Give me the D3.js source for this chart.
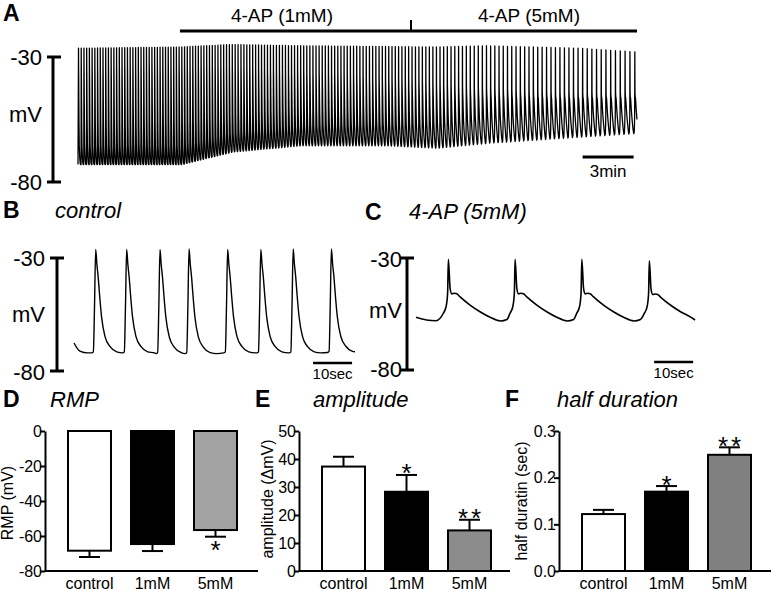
<!DOCTYPE html>
<html><head><meta charset="utf-8">
<script src="https://cdn.jsdelivr.net/npm/d3@7"></script>
<style>
body{margin:0;background:#fff}
svg{display:block}
text{font-family:"Liberation Sans",Arial,Helvetica,sans-serif;fill:#000}
</style></head><body>
<svg id="fig" width="771" height="591"></svg>
<script>
// ================= DATA =================
// Panel A: long recording (minutes, mV) — envelope read at key times
const aDuration    = 32.9;
const aKeyTime     = [0, 6, 9, 13, 18, 21, 24, 29.5, 32.9];
const aKeyTrough   = [-73, -73, -68, -65.5, -65.5, -66.5, -64.5, -62, -60.5];
const aKeyPeak     = [-26.5, -26, -25, -25.5, -25.8, -26, -25.5, -26.5, -28];
const aKeyInterval = [0.16, 0.16, 0.17, 0.18, 0.19, 0.21, 0.245, 0.27, 0.29];
const aKeyShapeMix = [0, 0, 0.15, 0.3, 0.45, 0.6, 0.8, 1, 1];
// spike waveform templates (phase of interval -> fraction trough..peak)
const aPhase    = [0, 0.03, 0.07, 0.12, 0.18, 0.28, 0.44, 0.62, 0.77, 0.87, 0.93, 0.965];
const aShapeCtl = [1, 0.85, 0.74, 0.55, 0.35, 0.157, 0.06, 0.01, 0, 0, 0, 0.35];
const aShape4AP = [1, 0.5, 0.44, 0.44, 0.39, 0.29, 0.17, 0.06, 0, 0.02, 0.12, 0.23];
const aDrugTimes  = [6, 19.6, 32.9];
const aDrugLabels = ["4-AP (1mM)", "4-AP (5mM)"];
const aScaleBarMin = [29.7, 32.7];

// Panel B: control trace (seconds, mV)
const bDuration = 72.05;
const bStartPts = [[0, -67.6], [1.5, -71.2], [3.5, -72]];
const bEndPt    = [72.05, -71.5];
const bPeakTime = [5.56, 13.5, 22.05, 29.5, 39.4, 47.9, 56.2, 66.0];
const bPeakV    = [-26.2, -26.2, -26.2, -26.0, -26.2, -26.2, -26.0, -26.0];
const bTroughV  = [-72, -72, -72.3, -72.3, -72, -72, -72, -71.8];
const bShapeT   = [-1.0, -0.6, -0.3, 0, 0.3, 0.65, 1.0, 1.5, 2.4, 3.7, 5.4, 7.1];
const bShapeF   = [0, 0.01, 0.45, 1, 0.86, 0.73, 0.56, 0.35, 0.157, 0.06, 0.01, 0];
const bScaleBarSec = [61.3, 71.3];

// Panel C: 4-AP (5mM) trace (seconds, mV)
const cDuration = 71.5;
const cStartPts = [[0, -56.5], [2.7, -57.7], [5.1, -58.0]];
const cEndPt    = [71.5, -57.7];
const cPeakTime = [8.3, 25.4, 42.5, 59.8];
const cPeakV    = [-30.6, -30.6, -30.6, -31.3];
const cTroughV  = [-58.1, -58.1, -58.1, -58.1];
const cShapeT   = [-1.3, -0.6, -0.2, 0, 0.44, 0.87, 1.5, 2.15, 3.0, 5.56, 8.1, 10.7, 13.3, 15.0];
const cShapeF   = [0.125, 0.23, 0.45, 1, 0.53, 0.44, 0.45, 0.44, 0.39, 0.257, 0.15, 0.06, 0, 0.025];
const cScaleBarSec = [62.05, 72.05];

const scaleBarMV = [-80, -30];
const scaleLabels = ["-30", "mV", "-80"];

// Panels D-F: bar charts
const cats    = ["control", "1mM", "5mM"];
const rmpMean = [-68.4, -64.6, -56.6];
const rmpSem  = [3.6, 4.0, 3.8];
const rmpSig  = ["", "", "*"];
const rmpTicks = [0, -20, -40, -60, -80];
const ampMean = [37.3, 28.3, 14.5];
const ampSem  = [3.5, 6.0, 3.8];
const ampSig  = ["", "*", "**"];
const ampTicks = [0, 10, 20, 30, 40, 50];
const hdMean  = [0.122, 0.170, 0.249];
const hdSem   = [0.009, 0.012, 0.016];
const hdSig   = ["", "*", "**"];
const hdTicks = [0, 0.1, 0.2, 0.3];

// ================= DRAW =================
const svg = d3.select("#fig");

function label(x, y, s, o = {}) {
  const t = svg.append("text").attr("x", x).attr("y", y).text(s)
    .attr("font-size", o.size || 16)
    .attr("text-anchor", o.anchor || "start");
  if (o.bold) t.attr("font-weight", "bold");
  if (o.italic) t.attr("font-style", "italic");
  if (o.transform) t.attr("transform", o.transform).attr("x", 0).attr("y", 0);
  return t;
}
function seg(x1, y1, x2, y2, w) {
  svg.append("line").attr("x1", x1).attr("y1", y1).attr("x2", x2).attr("y2", y2)
    .attr("stroke", "#000").attr("stroke-width", w);
}

// ---------- Panel A ----------
const xA = d3.scaleLinear().domain([0, aDuration]).range([78, 637]);
const yA = d3.scaleLinear().domain([-80, -30]).range([182, 57]);
const key = vals => d3.scaleLinear().domain(aKeyTime).range(vals).clamp(true);
const aTr = key(aKeyTrough), aPk = key(aKeyPeak), aInt = key(aKeyInterval), aMix = key(aKeyShapeMix);
const aPts = [[0, aTr(0)]];
let t0 = 0.03;
while (t0 < aDuration) {
  const I = aInt(t0), tr = aTr(t0), pk = aPk(t0), m = aMix(t0);
  aPhase.forEach((p, k) => {
    const tt = t0 + p * I;
    if (tt <= aDuration) {
      const f = aShapeCtl[k] * (1 - m) + aShape4AP[k] * m;
      aPts.push([tt, tr + f * (pk - tr)]);
    }
  });
  t0 += I;
}
const lineA = d3.line().x(d => xA(d[0])).y(d => yA(d[1]));
svg.append("path").attr("d", lineA(aPts)).attr("fill", "none")
  .attr("stroke", "#000").attr("stroke-width", 1.3).attr("stroke-linejoin", "round");

// drug bar
seg(xA(aDrugTimes[0]), 31, xA(aDrugTimes[2]), 31, 3);
seg(xA(aDrugTimes[1]), 20, xA(aDrugTimes[1]), 31, 2);
label(282, 22, aDrugLabels[0], {size: 19, anchor: "middle"});
label(529, 22, aDrugLabels[1], {size: 19, anchor: "middle"});
// time scale bar
seg(xA(aScaleBarMin[0]), 157, xA(aScaleBarMin[1]), 157, 3);
label((xA(aScaleBarMin[0]) + xA(aScaleBarMin[1])) / 2, 177, "3min", {size: 17, anchor: "middle"});

function vScale(x, y, t0w, t1w, labX, bases) {
  seg(x, y(scaleBarMV[0]), x, y(scaleBarMV[1]), 3);
  seg(t0w, y(scaleBarMV[0]), t1w, y(scaleBarMV[0]), 3);
  seg(t0w, y(scaleBarMV[1]), t1w, y(scaleBarMV[1]), 3);
  scaleLabels.forEach((s, i) => label(labX, bases[i], s, {size: 22, anchor: "end"}));
}
vScale(53, yA, 47, 61, 42, [65, 122, 190]);
label(3, 21, "A", {size: 23, bold: true});

// ---------- Panels B / C traces ----------
function buildTrace(startPts, endPt, peakT, peakV, troughV, shT, shF) {
  const pts = [];
  startPts.forEach(p => { if (p[0] < peakT[0] + shT[0]) pts.push(p); });
  peakT.forEach((tp, i) => {
    const limit = i < peakT.length - 1 ? peakT[i + 1] + shT[0] : endPt[0];
    shT.forEach((dt, k) => {
      const tt = tp + dt;
      if (tt < limit) pts.push([tt, troughV[i] + shF[k] * (peakV[i] - troughV[i])]);
    });
  });
  pts.push(endPt);
  return pts;
}
const xB = d3.scaleLinear().domain([0, bDuration]).range([74, 355]);
const yB = d3.scaleLinear().domain([-80, -30]).range([371, 258]);
const bPts = buildTrace(bStartPts, bEndPt, bPeakTime, bPeakV, bTroughV, bShapeT, bShapeF);
svg.append("path").attr("d", d3.line().curve(d3.curveMonotoneX).x(d => xB(d[0])).y(d => yB(d[1]))(bPts))
  .attr("fill", "none").attr("stroke", "#000").attr("stroke-width", 1.4).attr("stroke-linejoin", "round");
vScale(57, yB, 50, 64, 45, [266, 322, 380]);
seg(xB(bScaleBarSec[0]), 363, xB(bScaleBarSec[1]), 363, 2.5);
label((xB(bScaleBarSec[0]) + xB(bScaleBarSec[1])) / 2, 379, "10sec", {size: 15, anchor: "middle"});
label(3, 218, "B", {size: 23, bold: true});
label(55, 218, "control", {size: 22, italic: true});

const xC = d3.scaleLinear().domain([0, cDuration]).range([416, 695]);
const yC = d3.scaleLinear().domain([-80, -30]).range([370, 258]);
const cPts = buildTrace(cStartPts, cEndPt, cPeakTime, cPeakV, cTroughV, cShapeT, cShapeF);
svg.append("path").attr("d", d3.line().curve(d3.curveMonotoneX).x(d => xC(d[0])).y(d => yC(d[1]))(cPts))
  .attr("fill", "none").attr("stroke", "#000").attr("stroke-width", 1.6).attr("stroke-linejoin", "round");
vScale(407, yC, 400, 414, 402, [267, 318, 377]);
seg(xC(cScaleBarSec[0]) - 4, 362, xC(cScaleBarSec[1]) - 4, 362, 2.5);
label((xC(cScaleBarSec[0]) + xC(cScaleBarSec[1])) / 2 - 4, 378, "10sec", {size: 15, anchor: "middle"});
label(365, 220, "C", {size: 23, bold: true});
label(409, 219, "4-AP (5mM)", {size: 22, italic: true});

// ---------- Bar panels ----------
function barPanel(o) {
  const y = d3.scaleLinear().domain(o.domain).range([571, 431]);
  const x = d3.scaleBand().domain(cats)
    .range([o.axisX + 13, o.axisX + 13 + 189]).paddingInner(20 / 63).paddingOuter(10 / 63);
  const g = svg.append("g");
  g.selectAll("rect").data(o.means).join("rect")
    .attr("x", (d, i) => x(cats[i]))
    .attr("width", x.bandwidth())
    .attr("y", d => Math.min(y(0), y(d)))
    .attr("height", d => Math.abs(y(d) - y(0)))
    .attr("fill", (d, i) => o.fills[i])
    .attr("stroke", "#000").attr("stroke-width", 2);
  o.means.forEach((m, i) => {
    const e = m + Math.sign(m) * o.sems[i];
    const cx = x(cats[i]) + x.bandwidth() / 2;
    seg(cx, y(m), cx, y(e), 2);
    seg(cx - 10.5, y(e), cx + 10.5, y(e), 2);
    if (o.sig[i]) {
      const base = m < 0 ? y(e) + 22.5 : y(e) + 7.5;
      svg.append("text").attr("x", cx + (o.sig[i].length > 1 ? 1.5 : 0)).attr("y", base)
        .attr("text-anchor", "middle").attr("font-size", 26)
        .attr("letter-spacing", o.sig[i].length > 1 ? 3 : 0).text(o.sig[i]);
    }
  });
  const ax = svg.append("g").attr("transform", `translate(${o.axisX},0)`)
    .call(d3.axisLeft(y).tickValues(o.ticks).tickFormat(o.fmt).tickSize(5).tickPadding(-2).tickSizeOuter(0));
  ax.select(".domain").attr("stroke-width", 2);
  ax.selectAll(".tick line").attr("stroke-width", 2);
  ax.selectAll(".tick text").attr("font-size", 16)
    .attr("font-family", '"Liberation Sans", Arial, sans-serif');
  seg(o.axisX, 571, o.axisX + o.xLen, 571, 2);
  cats.forEach(c => label(x(c) + x.bandwidth() / 2, 589, c, {size: 16, anchor: "middle"}));
  label(0, 0, o.ylabel, {size: 16, anchor: "middle", transform: `translate(${o.ylabX},${o.ylabY}) rotate(-90)`});
  label(o.letterX, 407, o.letter, {size: 23, bold: true});
  label(o.titleX, 407, o.title, {size: 22, italic: true});
}

barPanel({axisX: 45, xLen: 213, domain: [-80, 0], ticks: rmpTicks, fmt: d => String(d).replace("−", "-"),
  means: rmpMean, sems: rmpSem, sig: rmpSig, fills: ["#ffffff", "#000000", "#a3a3a3"],
  ylabel: "RMP (mV)", ylabX: 13, ylabY: 503, letter: "D", letterX: 3, title: "RMP", titleX: 50});
barPanel({axisX: 299, xLen: 211, domain: [0, 50], ticks: ampTicks, fmt: d => String(d),
  means: ampMean, sems: ampSem, sig: ampSig, fills: ["#ffffff", "#000000", "#8c8c8c"],
  ylabel: "amplitude (\u0394mV)", ylabX: 273, ylabY: 499, letter: "E", letterX: 255, title: "amplitude", titleX: 313});
barPanel({axisX: 559, xLen: 212, domain: [0, 0.3], ticks: hdTicks, fmt: d3.format(".1f"),
  means: hdMean, sems: hdSem, sig: hdSig, fills: ["#ffffff", "#000000", "#808080"],
  ylabel: "half duratin (sec)", ylabX: 527, ylabY: 501, letter: "F", letterX: 505, title: "half duration", titleX: 557});
</script>
</body></html>
